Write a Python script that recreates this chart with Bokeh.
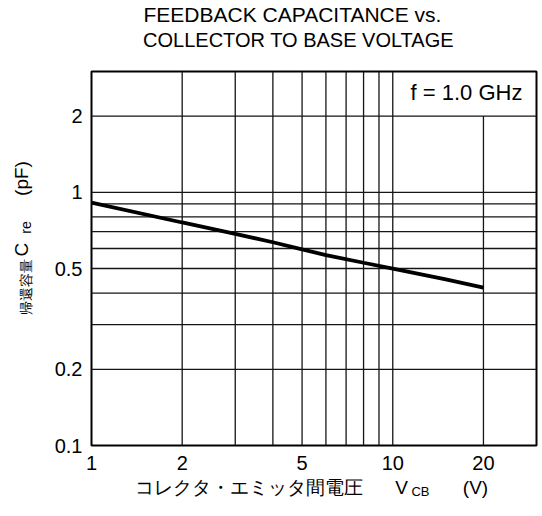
from bokeh.plotting import figure
from bokeh.models import (FixedTicker, CustomJSTickFormatter, Label, Range1d,
                          LinearAxis, LinearScale, Title)
from bokeh.embed import file_html
from bokeh.resources import INLINE

# ---- data ----
v_cb = [1, 2, 3, 4, 5, 6, 8, 10, 15, 20]
c_re = [0.91, 0.76, 0.685, 0.635, 0.595, 0.565, 0.527, 0.50, 0.453, 0.42]

x_ticks = [1, 2, 5, 10, 20]
y_ticks = [0.1, 0.2, 0.5, 1, 2]
x_grid = [2, 3, 4, 5, 6, 7, 8, 9, 10]
x_grid_short = [20]
y_grid = [0.2, 0.3, 0.4, 0.5, 0.6, 0.7, 0.8, 0.9, 1, 2]
x_lim = [1, 30]
y_lim = [0.1, 3]
y_note_floor = 2  # the note box sits above this grid line

title_lines = ["FEEDBACK CAPACITANCE vs.", "COLLECTOR TO BASE VOLTAGE"]
note_text = "f = 1.0 GHz"
x_label_main = ["コレクタ・エミッタ間電圧", "V", "(V)"]
x_label_sub = ["CB"]
y_label_main = ["C", "(pF)"]
y_label_small = ["帰還容量", "re"]

# ---- layout constants (pixels, measured from the frame's left / bottom edge) ----
FRAME_W, FRAME_H = 445, 374
X_MAIN_POS = [157, 310, 384]
X_SUB_POS = [329]
Y_MAIN_POS = [196, 267]
Y_SMALL_POS = [159, 218]
TITLE2_POS = [207]

FONT = "Liberation Sans"

p = figure(width=540, height=508, x_axis_type="log", y_axis_type="log",
           x_range=Range1d(x_lim[0], x_lim[1]), y_range=Range1d(y_lim[0], y_lim[1]),
           output_backend="svg", toolbar_location=None, title=None,
           min_border_left=91, min_border_right=4, min_border_top=71, min_border_bottom=63)

p.extra_x_ranges = {"px": Range1d(0, FRAME_W)}
p.extra_y_ranges = {"py": Range1d(0, FRAME_H)}
p.extra_x_scales = {"px": LinearScale()}
p.extra_y_scales = {"py": LinearScale()}

p.background_fill_color = "white"
p.border_fill_color = "white"
p.outline_line_color = "black"
p.outline_line_width = 2
p.xgrid.visible = False
p.ygrid.visible = False

GRID_C = "#151515"
GRID_W = 1.3
n = len(x_grid)
p.segment(x0=x_grid, y0=[y_lim[0]] * n, x1=x_grid, y1=[y_lim[1]] * n,
          line_color=GRID_C, line_width=GRID_W)
m = len(x_grid_short)
p.segment(x0=x_grid_short, y0=[y_lim[0]] * m, x1=x_grid_short, y1=[y_note_floor] * m,
          line_color=GRID_C, line_width=GRID_W)
k = len(y_grid)
p.segment(x0=[x_lim[0]] * k, y0=y_grid, x1=[x_lim[1]] * k, y1=y_grid,
          line_color=GRID_C, line_width=GRID_W)

p.line(v_cb, c_re, line_color="black", line_width=3.8)


def style_axis(ax, standoff, size, font=FONT):
    ax.axis_line_color = None
    ax.major_tick_line_color = None
    ax.minor_tick_line_color = None
    ax.major_tick_in = 0
    ax.major_tick_out = 0
    ax.minor_tick_in = 0
    ax.minor_tick_out = 0
    ax.major_label_standoff = standoff
    ax.major_label_text_font = font
    ax.major_label_text_font_size = size
    ax.major_label_text_color = "black"


fmt = CustomJSTickFormatter(code="return String(tick);")
for ax, ticks, standoff in ((p.xaxis[0], x_ticks, 10), (p.yaxis[0], y_ticks, 9)):
    ax.ticker = FixedTicker(ticks=ticks, minor_ticks=[])
    ax.formatter = fmt
    style_axis(ax, standoff, "20px")


def text_axis(side, texts, positions, standoff, size, vertical=False):
    kw = {"x_range_name": "px"} if side in ("above", "below") else {"y_range_name": "py"}
    ax = LinearAxis(**kw)
    ax.ticker = FixedTicker(ticks=positions, minor_ticks=[])
    ax.formatter = CustomJSTickFormatter(args=dict(labels=texts), code="return labels[index];")
    style_axis(ax, standoff, size)
    if vertical:
        ax.major_label_orientation = "vertical"
    p.add_layout(ax, side)
    return ax


# title: second line as a label row next to the frame, first line as a Title above it
text_axis("above", [title_lines[1]], TITLE2_POS, 21, "20px")
p.add_layout(Title(text=title_lines[0], align="left", offset=52, standoff=0,
                   text_font=FONT, text_font_size="21px", text_font_style="normal",
                   text_color="black", vertical_align="bottom"), "above")

# x axis label: main pieces, then the small "CB" pulled up onto the same line
text_axis("below", x_label_main, X_MAIN_POS, 4, "19px")
text_axis("below", x_label_sub, X_SUB_POS, -17, "13px")

# y axis label (vertical): small pieces, then the big pieces pulled onto the same column
text_axis("left", y_label_small, Y_SMALL_POS, 18, "14px", vertical=True)
text_axis("left", y_label_main, Y_MAIN_POS, -17, "19px", vertical=True)

# note in the top-right box (inside the frame)
p.add_layout(Label(x=375, y=353, x_units="screen", y_units="screen", text=note_text,
                   text_font=FONT, text_font_size="22px", text_color="black",
                   text_align="center", text_baseline="middle"))

open("out.html", "w").write(file_html(p, INLINE))
